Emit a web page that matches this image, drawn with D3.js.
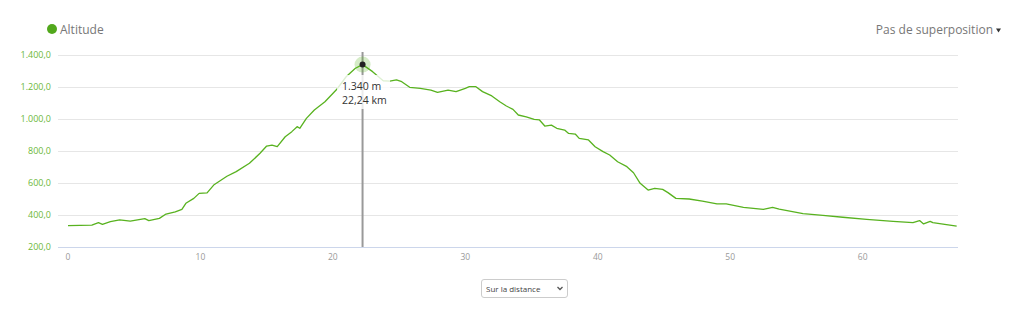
<!DOCTYPE html>
<html>
<head>
<meta charset="utf-8">
<script src="https://cdn.jsdelivr.net/npm/d3@7"></script>
<style>
  body { margin: 0; background: #fff; font-family: "Open Sans", sans-serif; }
  #vis { position: relative; width: 1022px; height: 318px; }
  select {
    position: absolute; left: 481px; top: 279px; width: 87px; height: 19px;
    font-family: "Open Sans", sans-serif; font-size: 8px; color: #444;
    border: 1px solid #ccc; border-radius: 3px; background: #fff; padding: 0 4px;
    -webkit-appearance: none; appearance: none;
  }
  svg { position: absolute; left: 0; top: 0; pointer-events: none; }
</style>
</head>
<body>
<div id="vis"></div>
<script>
// distance (km) / altitude (m)
const distKm = [0, 1.8, 2.3, 2.6, 3.2, 3.9, 4.7, 5.8, 6.1, 6.9, 7.4, 8.1, 8.6, 8.9, 9.5, 9.9, 10.5, 11.0, 12.0, 12.7,
  13.7, 14.5, 15.0, 15.4, 15.8, 16.4, 16.9, 17.3, 17.5, 18.0, 18.6, 19.4, 20.3, 21.0, 21.7, 22.24, 23.0, 23.8,
  24.3, 24.8, 25.2, 25.8, 26.6, 27.4, 27.9, 28.7, 29.3, 30.0, 30.3, 30.8, 31.3, 32.0, 32.6, 33.1, 33.6, 34.0,
  34.6, 35.2, 35.6, 36.0, 36.5, 36.9, 37.5, 37.8, 38.3, 38.6, 39.3, 39.8, 40.4, 40.9, 41.5, 42.2, 42.7, 43.2,
  43.8, 44.3, 44.9, 45.3, 45.9, 46.9, 47.9, 49.0, 49.7, 51.0, 52.5, 53.2, 53.7, 55.5, 57.0, 58.5, 60.3, 62.3,
  63.8, 64.3, 64.6, 65.1, 65.3, 67.1];
const altM = [333, 337, 352, 342, 358, 369, 362, 377, 365, 379, 406, 419, 435, 473, 504, 535, 538, 587, 642, 671,
  723, 786, 831, 837, 827, 889, 921, 952, 942, 1004, 1056, 1108, 1186, 1264, 1317, 1340, 1296, 1239,
  1237, 1244, 1233, 1198, 1192, 1181, 1167, 1181, 1171, 1192, 1202, 1202, 1171, 1144, 1108, 1081, 1060, 1025,
  1014, 998, 994, 956, 962, 942, 931, 910, 906, 879, 869, 827, 796, 775, 733, 702, 664, 598,
  556, 567, 560, 540, 504, 500, 487, 469, 469, 448, 435, 448, 437, 408, 398, 386, 373, 360,
  352, 365, 344, 360, 352, 331];
const yTicks = [200, 400, 600, 800, 1000, 1200, 1400];
const xTicks = [0, 10, 20, 30, 40, 50, 60];
const hover = { km: 22.24, alt: 1340 };

const W = 1022, H = 318;
const gridLeft = 58, gridRight = 958;

// select sits under the svg overlay
const sel = d3.select('#vis').append('select');
sel.append('option').text('Sur la distance');

const svg = d3.select('#vis').append('svg').attr('width', W).attr('height', H);

const x = d3.scaleLinear().domain([0, 67.2]).range([68, 958]);
const y = d3.scaleLinear().domain([200, 1400]).range([247, 55]);

const fmtY = v => d3.format(',.1f')(v).replace(/,/g, '#').replace('.', ',').replace(/#/g, '.');

// grid
svg.append('g').selectAll('line').data(yTicks.slice(1)).join('line')
  .attr('x1', gridLeft).attr('x2', gridRight)
  .attr('y1', d => y(d) + 0.5).attr('y2', d => y(d) + 0.5)
  .attr('stroke', '#e6e6e6');
svg.append('line')
  .attr('x1', gridLeft).attr('x2', gridRight)
  .attr('y1', y(200) + 0.5).attr('y2', y(200) + 0.5)
  .attr('stroke', '#ccd6eb');

// y labels
svg.append('g').selectAll('text').data(yTicks).join('text')
  .attr('x', 51).attr('y', d => y(d) + 3)
  .attr('text-anchor', 'end')
  .attr('font-size', 9).attr('fill', '#6cb83a')
  .text(fmtY);

// x labels
svg.append('g').selectAll('text').data(xTicks).join('text')
  .attr('x', d => x(d)).attr('y', 260)
  .attr('text-anchor', 'middle')
  .attr('font-size', 8.5).attr('fill', '#999')
  .text(d => d);

// crosshair
svg.append('line')
  .attr('x1', x(hover.km)).attr('x2', x(hover.km))
  .attr('y1', 52).attr('y2', 247)
  .attr('stroke', '#999').attr('stroke-width', 2);

// profile line
const data = distKm.map((d, i) => ({ km: d, alt: altM[i] }));
const line = d3.line().x(d => x(d.km)).y(d => y(d.alt));
svg.append('path').datum(data)
  .attr('d', line)
  .attr('fill', 'none')
  .attr('stroke', '#58b21f')
  .attr('stroke-width', 1.3)
  .attr('stroke-linejoin', 'round');

// hover marker
svg.append('circle').attr('cx', x(hover.km)).attr('cy', y(hover.alt)).attr('r', 8)
  .attr('fill', '#58b21f').attr('opacity', 0.25);
svg.append('circle').attr('cx', x(hover.km)).attr('cy', y(hover.alt)).attr('r', 3)
  .attr('fill', '#222');

// tooltip
const tip = svg.append('g');
tip.append('rect').attr('x', 337).attr('y', 75).attr('width', 53).attr('height', 34)
  .attr('fill', '#fff').attr('opacity', 0.8);
tip.append('text').attr('x', 342).attr('y', 90).attr('font-size', 10.5).attr('fill', '#333')
  .text(d3.format(',')(hover.alt).replace(',', '.') + ' m');
tip.append('text').attr('x', 342).attr('y', 104).attr('font-size', 10.5).attr('fill', '#333')
  .text(String(hover.km).replace('.', ',') + ' km');

// legend
svg.append('circle').attr('cx', 52).attr('cy', 29).attr('r', 5).attr('fill', '#52a81c');
svg.append('text').attr('x', 60).attr('y', 33.5).attr('font-size', 12).attr('fill', '#777').text('Altitude');

svg.append('text').attr('x', 993).attr('y', 33.5).attr('text-anchor', 'end')
  .attr('font-size', 12).attr('fill', '#777').text('Pas de superposition');
svg.append('path').attr('d', 'M996,28.5 L1001,28.5 L998.5,32.5 Z').attr('fill', '#333');

// select chevron
svg.append('path').attr('d', 'M557.5,287 L560,289.5 L562.5,287')
  .attr('fill', 'none').attr('stroke', '#555').attr('stroke-width', 1.3);
</script>
</body>
</html>
